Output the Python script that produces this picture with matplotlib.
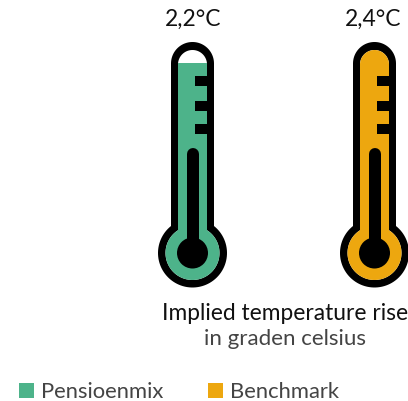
import matplotlib
matplotlib.use("Agg")
import matplotlib.pyplot as plt
import numpy as np
from matplotlib.patches import Circle, PathPatch, Rectangle
from matplotlib.path import Path
from matplotlib.transforms import Affine2D

names = ["Pensioenmix", "Benchmark"]
values = [2.2, 2.4]
value_labels = ["2,2°C", "2,4°C"]
colors = ["#4DB38A", "#EDA70F"]
title = "Implied temperature rise"
subtitle = "in graden celsius"

plt.rcParams["font.family"] = ["Lato", "DejaVu Sans"]

W, H = 408, 402
fig = plt.figure(figsize=(W / 100, H / 100), dpi=100)
ax = fig.add_axes([0, 0, 1, 1])
ax.axis("off")

# x: one unit between the thermometers, y: degrees (65 px per degree)
ax.set_xlim(-192.5 / 182, (W - 192.5) / 182)
ax.set_ylim(-3.0, 3.185)

# everything that is only the icon is placed in pixels from the top left
px = Affine2D().scale(1, -1).translate(0, H)


def tube_path(cx, half, top, bulb_y, r):
    # rounded tube on top of a circular bulb
    a0 = np.arcsin(half / r)
    dome = np.linspace(np.pi, 0, 40)
    bulb = np.linspace(a0, 2 * np.pi - a0, 80)
    xs = list(cx + half * np.cos(dome))
    ys = list(top + half - half * np.sin(dome))
    xs += list(cx + r * np.sin(bulb))
    ys += list(bulb_y - r * np.cos(bulb))
    return Path(np.column_stack([xs + xs[:1], ys + ys[:1]]), closed=True)


for i, (val, col) in enumerate(zip(values, colors)):
    cx = 192.5 + 182 * i
    bulb_y = 254

    ax.add_patch(PathPatch(tube_path(cx, 21.5, 43, bulb_y, 34.5), fc="black", ec="none", transform=px, zorder=1))
    inner = PathPatch(tube_path(cx, 14.5, 51, bulb_y, 27), fc="white", ec="none", transform=px, zorder=2)
    ax.add_patch(inner)

    bar = ax.bar(i, val + 3.0, bottom=-3.0, width=0.3, color=col, zorder=3)[0]
    bar.set_clip_path(inner)

    for y in [77, 102, 125]:
        ax.add_patch(Rectangle((cx + 2.5, y), 15, 10, fc="black", ec="none", transform=px, zorder=4))

    ax.plot([cx + 0.5, cx + 0.5], [155, bulb_y], color="black", lw=12 * 0.72, solid_capstyle="round",
            transform=px, zorder=4)
    ax.add_patch(Circle((cx, bulb_y), 15.5, fc="black", ec="none", transform=px, zorder=4))

    ax.text(cx + 1 - 2 * i, 26, value_labels[i], ha="center", va="baseline", fontsize=16.4, color="#111111",
            transform=px)

ax.text(285, 320, title, ha="center", va="baseline", fontsize=16.4, color="#111111", transform=px)
ax.text(285.5, 345, subtitle, ha="center", va="baseline", fontsize=16, color="#444444", transform=px)

for x0, name, col in zip([18.5, 208], names, colors):
    ax.add_patch(Rectangle((x0, 384), 15, 15, fc=col, ec="none", transform=px))
    ax.text(x0 + 22.5, 398, name, ha="left", va="baseline", fontsize=15.8, color="#444444", transform=px)

fig.savefig("out.png", dpi=100)
